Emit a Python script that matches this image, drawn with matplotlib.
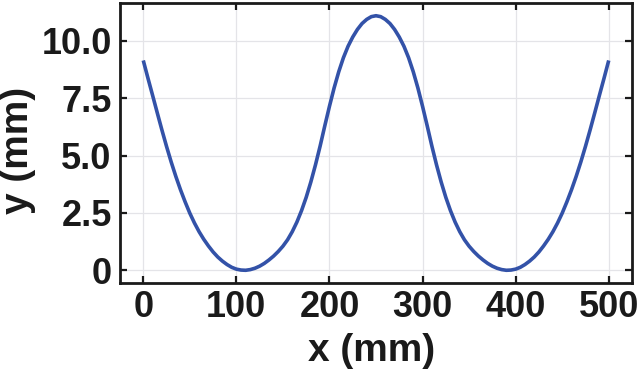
import matplotlib
matplotlib.use("Agg")
import matplotlib.pyplot as plt

# values (x in mm, y in mm), every 5 mm
x_mm = list(range(0, 505, 5))
y_mm = [9.15, 8.38, 7.63, 6.87, 6.12, 5.4, 4.72, 4.09, 3.51, 2.98,
        2.49, 2.06, 1.68, 1.35, 1.06, 0.8, 0.58, 0.4, 0.25, 0.13,
        0.05, 0.01, 0.0, 0.03, 0.09, 0.18, 0.3, 0.45, 0.62, 0.82,
        1.05, 1.33, 1.68, 2.1, 2.6, 3.18, 3.85, 4.6, 5.42, 6.3,
        7.15, 7.95, 8.66, 9.27, 9.77, 10.17, 10.5, 10.76, 10.94, 11.06,
        11.1,
        11.06, 10.94, 10.76, 10.5, 10.17, 9.77, 9.27, 8.66, 7.95, 7.15,
        6.3, 5.42, 4.6, 3.85, 3.18, 2.6, 2.1, 1.68, 1.33, 1.05,
        0.82, 0.62, 0.45, 0.3, 0.18, 0.09, 0.03, 0.0, 0.01, 0.05,
        0.13, 0.25, 0.4, 0.58, 0.8, 1.06, 1.35, 1.68, 2.06, 2.49,
        2.98, 3.51, 4.09, 4.72, 5.4, 6.12, 6.87, 7.63, 8.38, 9.15]

x_ticks = [0, 100, 200, 300, 400, 500]
y_ticks = [0, 2.5, 5.0, 7.5, 10.0]
y_tick_labels = ["0", "2.5", "5.0", "7.5", "10.0"]

plt.rcParams['font.family'] = ['Liberation Sans', 'DejaVu Sans']
plt.rcParams['font.weight'] = 'bold'

fig = plt.figure(figsize=(6.4, 3.75), dpi=100)
ax = fig.add_axes([0.1875, 0.2453, 0.8, 0.7467])

ax.plot(x_mm, y_mm, color='#3352a8', linewidth=2.6, solid_capstyle='butt')

ax.set_xticks(x_ticks)
ax.set_yticks(y_ticks)
ax.set_yticklabels(y_tick_labels)
ax.grid(True, color='#e4e4e8', linewidth=0.9)
ax.set_axisbelow(True)

ax.tick_params(direction='in', top=True, right=True, length=5, width=1.6,
               labelsize=26, color='#1a1a1a', labelcolor='#1a1a1a')
ax.tick_params(axis='x', pad=5)
ax.tick_params(axis='y', pad=6)
for lab in ax.get_xticklabels() + ax.get_yticklabels():
    lab.set_fontweight('bold')

for s in ax.spines.values():
    s.set_linewidth(2.0)
    s.set_color('#1a1a1a')

ax.set_xlabel('x (mm)', fontsize=28, fontweight='bold', color='#1a1a1a')
ax.set_ylabel('y (mm)', fontsize=28, fontweight='bold', color='#1a1a1a')
ax.xaxis.set_label_coords(0.492, -0.18)
ax.yaxis.set_label_coords(-0.165, 0.475)

fig.savefig('out.png', dpi=100)
